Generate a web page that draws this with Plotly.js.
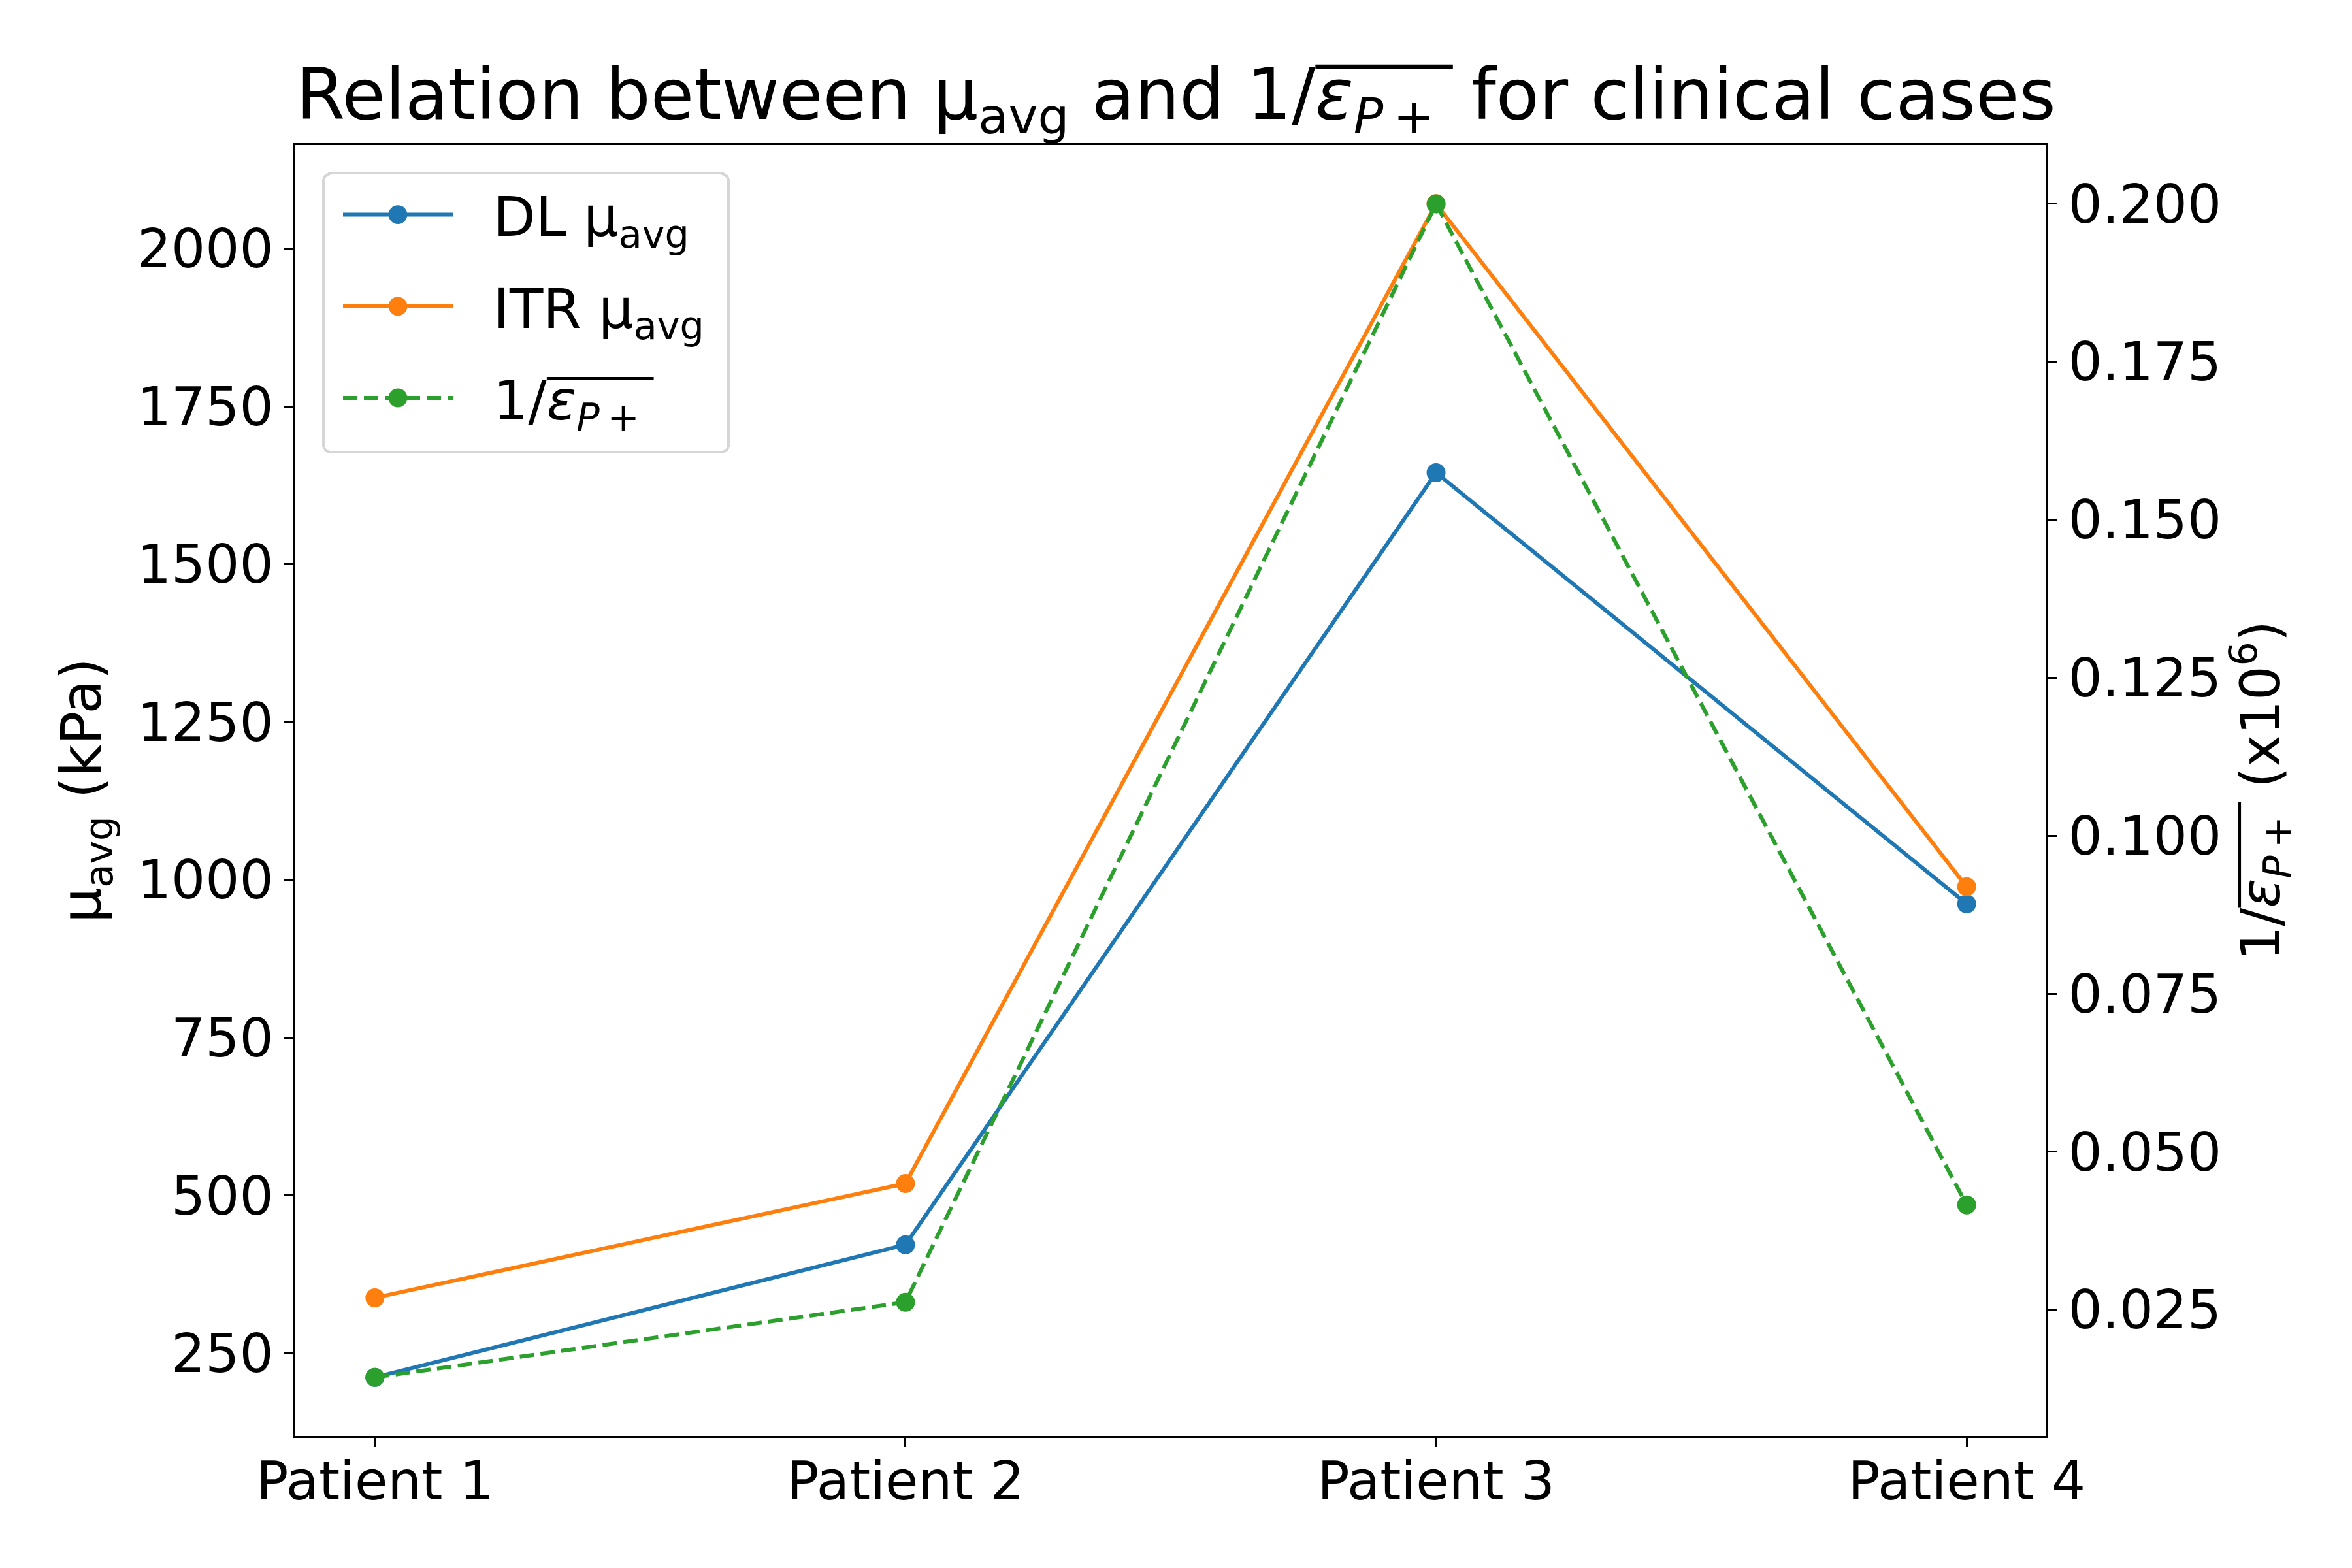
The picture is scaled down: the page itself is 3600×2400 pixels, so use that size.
<!DOCTYPE html>
<html>
<head>
<meta charset="utf-8">
<script src="https://cdn.plot.ly/plotly-3.0.1.min.js"></script>
<style>html,body{margin:0;padding:0;background:#fff;}</style>
</head>
<body>
<div id="chart" style="width:3600px;height:2400px;"></div>
<script>
const patients = ["Patient 1", "Patient 2", "Patient 3", "Patient 4"];
const dlMu = [212, 422, 1645, 962];
const itrMu = [338, 519, 2071, 989];
const invEps = [0.0143, 0.0262, 0.2000, 0.0416];

const leftTicks = [250, 500, 750, 1000, 1250, 1500, 1750, 2000];
const rightTicks = [0.025, 0.050, 0.075, 0.100, 0.125, 0.150, 0.175, 0.200];

const epsLabel = "1/<i>ε</i><sub><i>P</i>\u2009+</sub>\u2009";
const muLabel = "μ<sub>avg</sub>";
const PAD = "\u00a0\u00a0\u00a0";

const FONT = "DejaVu Sans, Liberation Sans, sans-serif";
const LW = 6, MS = 29;

const traces = [
  {x: patients, y: dlMu, name: PAD + "DL " + muLabel, legendgroup: "a", type: "scatter", mode: "lines+markers",
   line: {color: "#1f77b4", width: LW}, marker: {color: "#1f77b4", size: MS}, yaxis: "y"},
  {x: patients, y: itrMu, name: PAD + "ITR " + muLabel, legendgroup: "b", type: "scatter", mode: "lines+markers",
   line: {color: "#ff7f0e", width: LW}, marker: {color: "#ff7f0e", size: MS}, yaxis: "y"},
  {x: patients, y: invEps, name: PAD + epsLabel, legendgroup: "c", type: "scatter", mode: "lines+markers",
   line: {color: "#2ca02c", width: LW, dash: "22px,10px"}, marker: {color: "#2ca02c", size: MS}, yaxis: "y2"}
];

const axisCommon = {
  showgrid: false, zeroline: false, showline: true, linecolor: "#000", linewidth: 3,
  ticks: "outside", ticklen: 14, tickwidth: 3, tickcolor: "#000",
  tickfont: {family: FONT, size: 82, color: "#000"}
};

const layout = {
  width: 3600, height: 2400,
  paper_bgcolor: "#fff", plot_bgcolor: "#fff",
  margin: {l: 452, r: 468, t: 222, b: 202},
  font: {family: FONT, color: "#000"},
  title: {
    text: "Relation between " + muLabel + " and " + epsLabel + " for clinical cases",
    font: {family: FONT, size: 108, color: "#000"},
    x: 0.5, xanchor: "center", y: 0.94, yanchor: "middle"
  },
  xaxis: Object.assign({}, axisCommon, {
    type: "category", range: [-0.15, 3.15], mirror: true, ticklabelstandoff: -18
  }),
  yaxis: Object.assign({}, axisCommon, {
    range: [119, 2164], tickvals: leftTicks, ticktext: leftTicks.map(String),
    title: {text: muLabel + " (kPa)", font: {family: FONT, size: 85, color: "#000"}, standoff: 28}
  }),
  yaxis2: Object.assign({}, axisCommon, {
    overlaying: "y", side: "right", range: [0.00502, 0.2093],
    tickvals: rightTicks, ticktext: rightTicks.map(v => v.toFixed(3)),
    title: {text: epsLabel + " (x10<sup>6</sup>)", font: {family: FONT, size: 83, color: "#000"}, standoff: 18}
  }),
  showlegend: true,
  legend: {
    x: 0.0153, y: 0.979, xanchor: "left", yanchor: "top",
    bgcolor: "rgba(255,255,255,0.8)", bordercolor: "#d6d6d6", borderwidth: 4,
    font: {family: FONT, size: 84, color: "#000"},
    itemwidth: 168, tracegroupgap: 28
  }
};

function decorate(gd) {
  const NS = "http://www.w3.org/2000/svg";
  gd.querySelectorAll("text").forEach(t => {
    const s = t.textContent;
    const i = s.indexOf("ε");
    if (i < 1) return;
    const j = s.indexOf("+", i);
    if (j < 0) return;
    const fs = parseFloat(t.style.fontSize) || 80;
    const base = t.getStartPositionOfChar(i - 1).y;
    const x1 = t.getEndPositionOfChar(i - 1).x;
    const x2 = t.getEndPositionOfChar(j).x + 0.26 * fs;
    const y = base - 0.74 * fs;
    const p = document.createElementNS(NS, "path");
    p.setAttribute("d", "M" + x1 + "," + y + "H" + x2);
    p.setAttribute("stroke", "#000");
    p.setAttribute("stroke-width", (0.06 * fs).toFixed(2));
    p.setAttribute("fill", "none");
    const tr = t.getAttribute("transform");
    if (tr) p.setAttribute("transform", tr);
    t.parentNode.insertBefore(p, t.nextSibling);
  });
  gd.querySelectorAll(".legend .legendpoints path.scatterpts").forEach(p => {
    const tr = p.getAttribute("transform") || "";
    p.setAttribute("transform", tr + " scale(1.8)");
  });
  gd.querySelectorAll(".legend .traces g.layers").forEach(g => {
    const tr = g.getAttribute("transform") || "";
    g.setAttribute("transform", tr + " translate(23,0)");
  });
  gd.querySelectorAll(".legend rect.bg").forEach(r => {
    r.setAttribute("rx", 12); r.setAttribute("ry", 12);
    const w = parseFloat(r.getAttribute("width"));
    const h = parseFloat(r.getAttribute("height"));
    if (w) r.setAttribute("width", w + 30);
    if (h) r.setAttribute("height", h + 20);
  });
}

Plotly.newPlot("chart", traces, layout, {staticPlot: true}).then(decorate);
</script>
</body>
</html>
